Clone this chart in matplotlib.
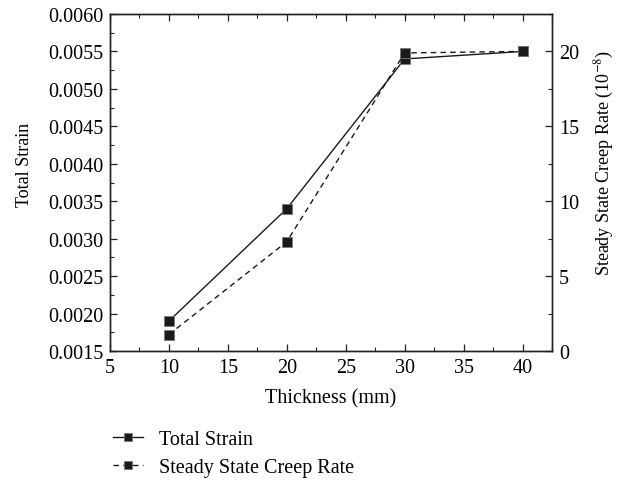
"""Total strain and steady state creep rate against thickness."""
import matplotlib
matplotlib.use('Agg')
import matplotlib.pyplot as plt
from matplotlib.ticker import MultipleLocator

plt.rc('font', family=['Liberation Serif', 'DejaVu Serif'], size=14.5)
plt.rc('mathtext', fontset='stix')

# Data
thickness = [10, 20, 30, 40]
total_strain = [0.0019, 0.0034, 0.0054, 0.0055]
creep_rate = [1.1, 7.3, 19.9, 20.0]

fig = plt.figure(figsize=(6.27, 4.85), dpi=100)
ax = fig.add_axes([110 / 627, 1 - 352 / 485, 442 / 627, 337 / 485])
ax2 = ax.twinx()

l1, = ax.plot(thickness, total_strain, color='#1a1a1a', lw=1.0, ls='-',
              marker='s', ms=7, mfc='#1a1a1a', mec='#777777', mew=0.6)
l2, = ax2.plot(thickness, creep_rate, color='#1a1a1a', lw=1.0, ls=(0, (4, 3)),
               marker='s', ms=7, mfc='#1a1a1a', mec='#777777', mew=0.6)

ax.set_xlim(5, 42.5)
ax.set_ylim(0.0015, 0.0060)
ax2.set_ylim(0, 22.5)

ax.xaxis.set_major_locator(MultipleLocator(5))
ax.xaxis.set_minor_locator(MultipleLocator(2.5))
ax.yaxis.set_major_locator(MultipleLocator(0.0005))
ax.yaxis.set_minor_locator(MultipleLocator(0.00025))
ax.yaxis.set_major_formatter(plt.FormatStrFormatter('%.4f'))
ax2.yaxis.set_major_locator(MultipleLocator(5))
ax2.yaxis.set_minor_locator(MultipleLocator(2.5))

ax.tick_params(which='both', direction='in', top=True, color='#222222', pad=5)
ax.tick_params(which='major', length=5, width=0.9)
ax.tick_params(which='minor', length=3, width=0.8)
ax2.tick_params(which='both', direction='in', color='#222222', pad=5)
ax2.tick_params(which='major', length=5, width=0.9)
ax2.tick_params(which='minor', length=3, width=0.8)

for a in (ax, ax2):
    for s in a.spines.values():
        s.set_linewidth(1.0)
        s.set_color('#222222')

ax.set_xlabel('Thickness (mm)', labelpad=8)
ax.set_ylabel('Total Strain', fontsize=13)
ax.yaxis.set_label_coords(-0.174, 0.555)
ax2.set_ylabel('Steady State Creep Rate (10$^{-8}$)', fontsize=13)
ax2.yaxis.set_label_coords(1.093, 0.56)

fig.legend([l1, l2], ['Total Strain', 'Steady State Creep Rate'],
           loc='upper left', bbox_to_anchor=(95 / 627, 1 - 413 / 485),
           frameon=False, handlelength=1.5, handletextpad=0.8,
           labelspacing=0.45, markerscale=0.75)

fig.savefig('out.png', dpi=100)
